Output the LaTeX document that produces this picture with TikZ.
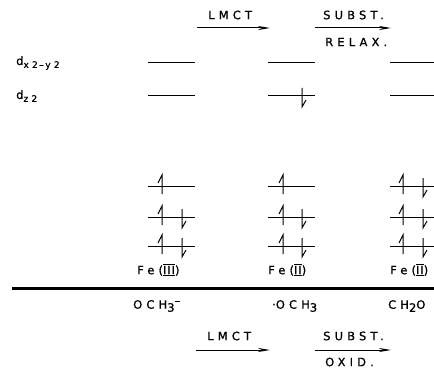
\documentclass[tikz,border=0pt]{standalone}
\usepackage{fontspec}
\setmainfont{DejaVu Sans}[LetterSpace=36,FakeBold=0.8]
\usetikzlibrary{arrows.meta}
% roman numeral with bars above and below
\newcommand\barnum[1]{$\overline{\underline{\hbox{\addfontfeature{LetterSpace=8}#1}}}$}
\newcommand\sub[1]{\raisebox{-3pt}{#1}}
\begin{document}
\begin{tikzpicture}[x=1pt,y=-1pt,
  lbl/.style={inner sep=0pt,font=\fontsize{11.5}{13}\selectfont},
  level/.style={line width=1pt},
  spin/.style={line width=1pt,line join=miter},
  proc/.style={line width=1pt,-{Stealth[length=12pt,width=4pt]}},
  axis/.style={line width=3pt}]
\useasboundingbox (0,0) rectangle (434,369);

% process arrows, top
\node[lbl,anchor=west] (t1) at (208,15) {LMCT};
\coordinate (t1a) at (197,28); \coordinate (t1b) at (270,28);
\draw[proc] (t1a) -- (t1b);
\node[lbl,anchor=west] (t2) at (323,15) {SUBST.};
\coordinate (t2a) at (315,28); \coordinate (t2b) at (391,28);
\draw[proc] (t2a) -- (t2b);
\node[lbl,anchor=west] (t3) at (325,42) {RELAX.};

% orbital labels
\node[lbl,anchor=west] (dx) at (16,63) {d\sub{\fontsize{9}{9}\selectfont x2\,--\,y2}};
\node[lbl,anchor=west] (dz) at (16,96) {d\sub{\fontsize{9}{9}\selectfont z2}};

% energy levels
\foreach \xa/\xb in {148/195,268/315,390/434}{
  \foreach \yy in {63,96,186,217,246}{
    \draw[level] (\xa,\yy) -- (\xb,\yy);
  }
}

% electrons
\newcommand\eup[2]{\draw[spin] (#1,#2+8) -- (#1,#2-11) -- (#1-4,#2-3);}
\newcommand\edn[2]{\draw[spin] (#1,#2-8) -- (#1,#2+11) -- (#1+4,#2+4);}
\eup{162}{186}
\eup{162}{217}\edn{182}{217}
\eup{162}{246}\edn{182}{246}
\edn{302}{96}
\eup{283}{186}
\eup{283}{217}\edn{302}{217}
\eup{283}{246}\edn{302}{246}
\eup{403}{186}\edn{423}{186}
\eup{403}{217}\edn{423}{217}
\eup{403}{246}\edn{423}{246}

% oxidation states
\node[lbl,anchor=west] (fe1) at (137,270) {Fe(\barnum{III})};
\node[lbl,anchor=west] (fe2) at (268,270) {Fe(\barnum{II})};
\node[lbl,anchor=west] (fe3) at (390,270) {Fe(\barnum{II})};

% separator
\coordinate (s1) at (12,288); \coordinate (s2) at (434,288);
\draw[axis] (s1) -- (s2);

% ligands
\node[lbl,anchor=west] (l1) at (133,306) {OCH\sub{3}\raisebox{4pt}{--}};
\node[lbl,anchor=west] (l2) at (272,306) {{\addfontfeature{LetterSpace=0}·}OCH\sub{3}};
\node[lbl,anchor=west] (l3) at (388,306) {CH\sub{2}O};

% process arrows, bottom
\node[lbl,anchor=west] (b1) at (207,336) {LMCT};
\coordinate (b1a) at (196,350); \coordinate (b1b) at (270,350);
\draw[proc] (b1a) -- (b1b);
\node[lbl,anchor=west] (b2) at (323,336) {SUBST.};
\coordinate (b2a) at (315,350); \coordinate (b2b) at (391,350);
\draw[proc] (b2a) -- (b2b);
\node[lbl,anchor=west] (b3) at (325,362) {OXID.};
\end{tikzpicture}
\end{document}
